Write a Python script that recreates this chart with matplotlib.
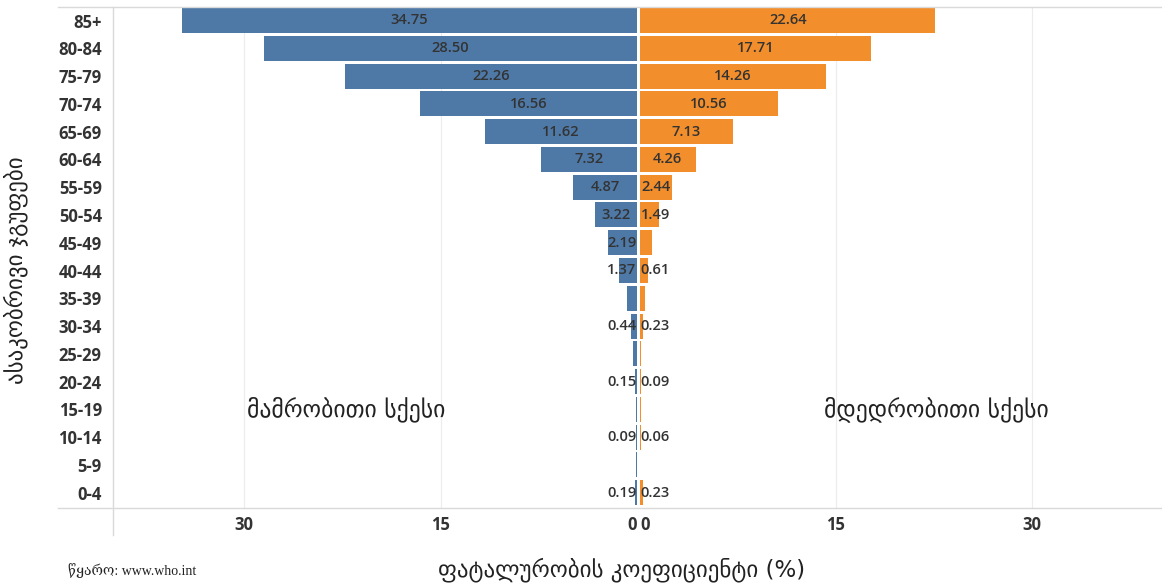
import matplotlib
matplotlib.use("Agg")
import matplotlib.pyplot as plt
from matplotlib.lines import Line2D

# Case fatality rate (%) by age group and sex
age_groups = ["85+", "80-84", "75-79", "70-74", "65-69", "60-64", "55-59", "50-54",
              "45-49", "40-44", "35-39", "30-34", "25-29", "20-24", "15-19",
              "10-14", "5-9", "0-4"]
male = [34.75, 28.50, 22.26, 16.56, 11.62, 7.32, 4.87, 3.22, 2.19, 1.37,
        0.80, 0.44, 0.28, 0.15, 0.10, 0.09, 0.05, 0.19]
female = [22.64, 17.71, 14.26, 10.56, 7.13, 4.26, 2.44, 1.49, 0.90, 0.61,
          0.35, 0.23, 0.10, 0.09, 0.05, 0.06, 0.03, 0.23]
male_labeled = [True] * 10 + [False, True, False, True, False, True, False, True]
female_labeled = [True] * 8 + [False, True, False, True, False, True, False, True, False, True]
x_ticks = [0, 15, 30]

BLUE = "#4e79a7"
ORANGE = "#f28e2b"
GRID = "#ececec"
FRAME = "#d9d9d9"
TXT = "#333333"
GEO = ["DejaVu Sans"]
NUM = ["Open Sans", "DejaVu Sans"]

W, H = 1162, 586
fig = plt.figure(figsize=(W / 100, H / 100), dpi=100)

def fx(px):
    return px / W

def fy(py):
    return 1 - py / H

top, bottom = 8, 508
ax_m = fig.add_axes([fx(113), fy(bottom), fx(637) - fx(113), fy(top) - fy(bottom)])
ax_f = fig.add_axes([fx(640), fy(bottom), fx(1162) - fx(640), fy(top) - fy(bottom)])

n = len(age_groups)
ypos = [n - 1 - i for i in range(n)]

for ax, vals, col, zero_ha in ((ax_m, male, BLUE, "right"), (ax_f, female, ORANGE, "left")):
    ax.barh(ypos, vals, height=0.9, color=col, edgecolor="none", zorder=2)
    ax.set_xlim(0, 40)
    ax.set_ylim(-0.55, n - 1 + 0.45)
    ax.set_xticks(x_ticks)
    ax.set_xticklabels([str(t) for t in x_ticks], fontsize=12, fontweight="bold",
                       color=TXT, family=NUM)
    ax.tick_params(axis="x", length=0, pad=6)
    ax.get_xticklabels()[0].set_horizontalalignment(zero_ha)
    for t in (15, 30):
        ax.axvline(t, color=GRID, lw=0.8, zorder=0)
    for s in ax.spines.values():
        s.set_visible(False)

ax_m.invert_xaxis()
ax_m.set_yticks(ypos)
ax_m.set_yticklabels(age_groups, fontsize=12, fontweight="bold", color=TXT, family=NUM)
ax_m.tick_params(axis="y", length=0, pad=8)
ax_f.set_yticks([])

# Value labels, centred on the bar but kept on their own side of zero
label_texts = []
for ax, vals, shown in ((ax_m, male, male_labeled), (ax_f, female, female_labeled)):
    for y, v, s in zip(ypos, vals, shown):
        if not s:
            continue
        t = ax.text(v / 2, y, f"{v:.2f}", ha="center", va="center", fontsize=10.5,
                    fontweight="semibold", color=TXT, family=NUM, zorder=3)
        label_texts.append((ax, t, v, y))

fig.canvas.draw()
renderer = fig.canvas.get_renderer()
for ax, t, v, y in label_texts:
    wpx = t.get_window_extent(renderer).width
    unit_px = ax.get_window_extent(renderer).width / 40.0
    half = wpx / 2 / unit_px + 0.05
    if v / 2 < half:
        t.set_x(half)

# Sex annotations
ax_m.text(22.2, ypos[age_groups.index("15-19")], "მამრობითი სქესი", ha="center",
          va="center", fontsize=17, color="#222222", family=GEO)
ax_f.text(22.7, ypos[age_groups.index("15-19")], "მდედრობითი სქესი", ha="center",
          va="center", fontsize=17, color="#222222", family=GEO)

# Frame lines around the table
fig.add_artist(Line2D([fx(58), 1], [fy(7), fy(7)], color=FRAME, lw=1))
fig.add_artist(Line2D([fx(58), 1], [fy(508), fy(508)], color=FRAME, lw=1))
fig.add_artist(Line2D([fx(113), fx(113)], [fy(7), fy(535)], color=FRAME, lw=1))

# Axis titles and source
fig.text(fx(16), fy(270), "ასაკობრივი ჯგუფები", rotation=90, ha="center", va="center",
         fontsize=16.5, color="#222222", family=GEO)
fig.text(fx(622), fy(570), "ფატალურობის კოეფიციენტი (%)", ha="center", va="center",
         fontsize=16.5, color="#222222", family=GEO)
fig.text(fx(68), fy(571), "წყარო: www.who.int", ha="left", va="center", fontsize=10,
         color="#222222", family=["Liberation Serif", "DejaVu Serif", "DejaVu Sans"])

fig.savefig("out.png", dpi=100, facecolor="white")
